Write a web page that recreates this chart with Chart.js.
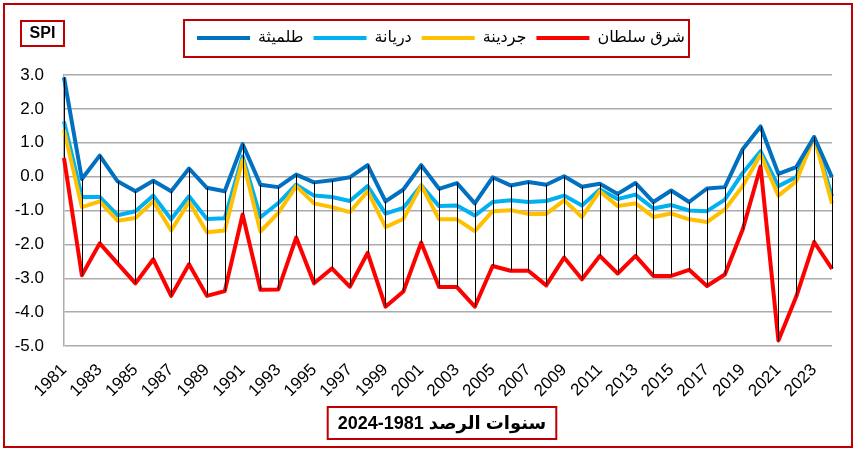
<!DOCTYPE html>
<html lang="ar">
<head>
<meta charset="utf-8">
<title>SPI</title>
<script src="https://cdn.jsdelivr.net/npm/chart.js@4/dist/chart.umd.min.js"></script>
<style>
  body { margin: 0; background: #fff; }
  canvas { display: block; }
</style>
</head>
<body>
<canvas id="spiChart" width="857" height="450"></canvas>
<script>
// سنوات الرصد 1981-2024
const years = [];
for (let y = 1981; y <= 2024; y++) years.push(String(y));

// قيم SPI لكل محطة (مقروءة من الرسم)
const tolmeitha = [2.93, -0.07, 0.62, -0.14, -0.43, -0.12, -0.43, 0.24, -0.33, -0.43,
  0.96, -0.24, -0.31, 0.06, -0.17, -0.11, -0.02, 0.34, -0.73, -0.38,
  0.34, -0.36, -0.19, -0.79, -0.02, -0.26, -0.16, -0.24, 0.01, -0.30,
  -0.21, -0.51, -0.19, -0.75, -0.41, -0.75, -0.35, -0.31, 0.81, 1.48,
  0.08, 0.28, 1.17, -0.02];
const deryana = [1.63, -0.60, -0.60, -1.14, -1.02, -0.56, -1.26, -0.58, -1.25, -1.23,
  0.60, -1.20, -0.78, -0.24, -0.56, -0.60, -0.72, -0.28, -1.09, -0.92,
  -0.26, -0.87, -0.85, -1.15, -0.75, -0.70, -0.75, -0.72, -0.56, -0.85,
  -0.38, -0.66, -0.53, -0.94, -0.84, -1.00, -1.02, -0.68, 0.11, 0.75,
  -0.28, -0.01, 1.17, -0.58];
const jardina = [1.38, -0.90, -0.73, -1.30, -1.22, -0.73, -1.59, -0.75, -1.64, -1.59,
  0.50, -1.62, -1.07, -0.28, -0.79, -0.90, -1.05, -0.43, -1.49, -1.25,
  -0.26, -1.26, -1.26, -1.61, -1.02, -0.99, -1.10, -1.10, -0.70, -1.19,
  -0.43, -0.87, -0.79, -1.19, -1.09, -1.26, -1.34, -0.97, -0.28, 0.65,
  -0.56, -0.14, 1.17, -0.80];
const sharqSoltan = [0.55, -2.91, -1.97, -2.56, -3.15, -2.44, -3.52, -2.59, -3.52, -3.38,
  -1.12, -3.34, -3.33, -1.80, -3.15, -2.71, -3.25, -2.25, -3.84, -3.39,
  -1.95, -3.26, -3.26, -3.84, -2.64, -2.78, -2.78, -3.21, -2.39, -3.03,
  -2.34, -2.86, -2.34, -2.93, -2.93, -2.75, -3.23, -2.89, -1.56, 0.30,
  -4.84, -3.54, -1.93, -2.72];

const seriesNames = ['طلميثة', 'دريانة', 'جردينة', 'شرق سلطان'];
const axisTitle = 'سنوات الرصد 1981-2024';
const boxTitle = 'SPI';

const FONT = 'Arial, "Liberation Sans", "DejaVu Sans", sans-serif';
const frameRed = '#C00000';

// خطوط عمودية بين أعلى وأدنى قيمة في كل سنة
const highLowLines = {
  id: 'highLowLines',
  afterDatasetsDraw(chart) {
    const ctx = chart.ctx;
    const x = chart.scales.x;
    const y = chart.scales.y;
    const sets = chart.data.datasets;
    ctx.save();
    ctx.strokeStyle = '#000';
    ctx.lineWidth = 1;
    for (let i = 0; i < chart.data.labels.length; i++) {
      let vals = sets.map(d => d.data[i]);
      let px = Math.round(x.getPixelForValue(i)) + 0.5;
      ctx.beginPath();
      ctx.moveTo(px, y.getPixelForValue(Math.max(...vals)));
      ctx.lineTo(px, y.getPixelForValue(Math.min(...vals)));
      ctx.stroke();
    }
    ctx.restore();
  }
};

// مساحة إضافية أسفل وسيلة الإيضاح + إزاحتها قليلاً لليمين
const legendSpace = {
  id: 'legendSpace',
  beforeInit(chart) {
    const fit = chart.legend.fit;
    chart.legend.fit = function () {
      fit.bind(chart.legend)();
      this.height += 19;
    };
  },
  afterLayout(chart) {
    chart.legend.left += 20;
    chart.legend.right += 20;
  }
};

// الإطارات والعناوين
const frames = {
  id: 'frames',
  beforeDraw(chart) {
    const ctx = chart.ctx;
    ctx.save();
    ctx.fillStyle = '#fff';
    ctx.fillRect(0, 0, chart.width, chart.height);
    ctx.restore();
  },
  afterDraw(chart) {
    const ctx = chart.ctx;
    const area = chart.chartArea;
    ctx.save();
    ctx.strokeStyle = frameRed;
    ctx.lineWidth = 2;

    // الإطار الخارجي
    ctx.strokeRect(4, 4, chart.width - 9, chart.height - 7);

    // إطار وسيلة الإيضاح
    const boxes = chart.legend.legendHitBoxes;
    const lgLeft = Math.min(...boxes.map(b => b.left)) - 13;
    const lgRight = Math.max(...boxes.map(b => b.left + b.width)) + 4;
    ctx.strokeRect(lgLeft, chart.legend.top, lgRight - lgLeft, 37);

    // مربع SPI
    ctx.strokeRect(21, 21, 43, 25);
    ctx.fillStyle = '#000';
    ctx.font = 'bold 16px ' + FONT;
    ctx.textAlign = 'center';
    ctx.textBaseline = 'middle';
    ctx.fillText(boxTitle, 42.5, 34);

    // عنوان المحور السيني
    ctx.font = 'bold 18px ' + FONT;
    ctx.direction = 'rtl';
    const w = ctx.measureText(axisTitle).width;
    const cx = (area.left + area.right) / 2 - 6;
    const cy = 423;
    ctx.strokeRect(cx - w / 2 - 10, cy - 16, w + 20, 32);
    ctx.fillText(axisTitle, cx, cy + 1);
    ctx.restore();
  }
};

const ctx = document.getElementById('spiChart').getContext('2d');
const myChart = new Chart(ctx, {
  type: 'line',
  data: {
    labels: years,
    datasets: [
      { label: seriesNames[0], data: tolmeitha, borderColor: '#0070C0', backgroundColor: '#0070C0', borderWidth: 4, order: 0 },
      { label: seriesNames[1], data: deryana, borderColor: '#00B0F0', backgroundColor: '#00B0F0', borderWidth: 4, order: 2 },
      { label: seriesNames[2], data: jardina, borderColor: '#FFC000', backgroundColor: '#FFC000', borderWidth: 4, order: 1 },
      { label: seriesNames[3], data: sharqSoltan, borderColor: '#FF0000', backgroundColor: '#FF0000', borderWidth: 4, order: 0 }
    ]
  },
  options: {
    responsive: false,
    animation: false,
    elements: {
      line: { tension: 0, borderJoinStyle: 'round' },
      point: { radius: 0, hoverRadius: 0 }
    },
    layout: { padding: { left: 10, right: 25, top: 20, bottom: 0 } },
    plugins: {
      tooltip: { enabled: false },
      legend: {
        position: 'top',
        labels: {
          usePointStyle: true,
          pointStyle: 'line',
          pointStyleWidth: 53,
          padding: 10,
          color: '#000',
          font: { family: FONT, size: 16 },
          sort: (a, b) => a.datasetIndex - b.datasetIndex
        }
      }
    },
    scales: {
      x: {
        offset: false,
        grid: { display: false },
        border: { display: false },
        ticks: {
          autoSkip: false,
          maxRotation: 45,
          minRotation: 45,
          padding: 6,
          color: '#000',
          font: { family: FONT, size: 17 },
          callback: (v, i) => (i % 2 === 0 ? years[i] : '')
        },
        afterFit: s => { s.height = 104; }
      },
      y: {
        min: -5,
        max: 3,
        grid: { color: '#ABABAB', lineWidth: 1.5, drawTicks: false },
        border: { display: true, color: '#ABABAB', width: 1.5 },
        ticks: {
          stepSize: 1,
          padding: 20,
          color: '#000',
          font: { family: FONT, size: 17 },
          callback: v => v.toFixed(1)
        },
        afterFit: s => { s.width = 54; }
      }
    }
  },
  plugins: [legendSpace, highLowLines, frames]
});
</script>
</body>
</html>
